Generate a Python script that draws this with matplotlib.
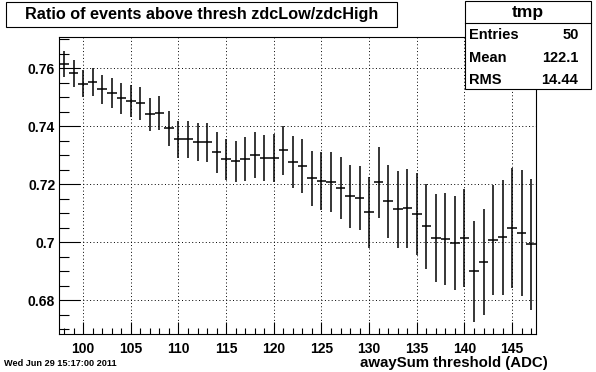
import matplotlib
matplotlib.use( 'Agg' )
import matplotlib.pyplot as pyplot
from matplotlib.patches import Rectangle
from matplotlib.ticker import MultipleLocator, FixedLocator, FixedFormatter


# bin centers (awaySum threshold) and ratio zdcLow/zdcHigh
thresholds = list( range( 98, 148 ) )

ratio = [ 0.7615, 0.7583, 0.7547, 0.7552, 0.7528, 0.7514, 0.7497, 0.7487, 0.7480, 0.7442,
          0.7445, 0.7393, 0.7355, 0.7355, 0.7345, 0.7345, 0.7310, 0.7286, 0.7279, 0.7286,
          0.7300, 0.7290, 0.7290, 0.7317, 0.7277, 0.7262, 0.7221, 0.7211, 0.7208, 0.7186,
          0.7159, 0.7152, 0.7103, 0.7207, 0.7141, 0.7114, 0.7117, 0.7097, 0.7055, 0.7014,
          0.7011, 0.6997, 0.7014, 0.6900, 0.6931, 0.7008, 0.7017, 0.7048, 0.7031, 0.6993 ]

ratio_err = [ 0.0046, 0.0047, 0.0047, 0.0048, 0.0050, 0.0052, 0.0053, 0.0055, 0.0057, 0.0057,
              0.0059, 0.0060, 0.0063, 0.0063, 0.0065, 0.0067, 0.0071, 0.0071, 0.0072, 0.0076,
              0.0079, 0.0080, 0.0082, 0.0085, 0.0089, 0.0093, 0.0095, 0.0099, 0.0103, 0.0107,
              0.0108, 0.0111, 0.0121, 0.0122, 0.0125, 0.0133, 0.0136, 0.0142, 0.0146, 0.0151,
              0.0159, 0.0163, 0.0169, 0.0175, 0.0183, 0.0191, 0.0199, 0.0207, 0.0217, 0.0226 ]

y_ticks = [ 0.68, 0.70, 0.72, 0.74, 0.76 ]
y_tick_labels = [ '0.68', '0.7', '0.72', '0.74', '0.76' ]
x_ticks = [ 100, 105, 110, 115, 120, 125, 130, 135, 140, 145 ]

stats_names = [ 'Entries', 'Mean', 'RMS' ]
stats_values = [ '50', '122.1', '14.44' ]


W, H = 596, 372
FONT = 'Liberation Sans'

fig = pyplot.figure( figsize=( W / 100, H / 100 ), dpi=100 )
fig.patch.set_facecolor( 'white' )

def fx( px ):
    return px / W

def fy( py ):
    return 1 - py / H

# frame in pixels: left 59, right 536, top 37, bottom 334
ax = fig.add_axes( [ fx( 59.3 ), fy( 333.7 ), fx( 536 - 59.3 ), ( 333.7 - 37.3 ) / H ] )

ax.errorbar( thresholds, ratio, yerr=ratio_err, xerr=0.5, fmt='none',
             ecolor='black', elinewidth=1.1, capsize=0 )

ax.set_xlim( 97.5, 147.5 )
ax.set_ylim( 0.6685, 0.7707 )

ax.xaxis.set_major_locator( FixedLocator( x_ticks ) )
ax.xaxis.set_minor_locator( MultipleLocator( 1 ) )
ax.yaxis.set_major_locator( FixedLocator( y_ticks ) )
ax.yaxis.set_major_formatter( FixedFormatter( y_tick_labels ) )
ax.yaxis.set_minor_locator( MultipleLocator( 0.005 ) )

ax.tick_params( axis='both', which='both', direction='in', top=False, right=False,
                width=0.8, colors='black' )
ax.tick_params( axis='x', which='major', length=9, pad=6 )
ax.tick_params( axis='x', which='minor', length=4.5 )
ax.tick_params( axis='y', which='major', length=15, pad=3 )
ax.tick_params( axis='y', which='minor', length=7.5 )

for lab in ax.get_xticklabels() + ax.get_yticklabels():
    lab.set_fontfamily( FONT )
    lab.set_fontweight( 'bold' )
    lab.set_fontsize( 10 )

for sp in ax.spines.values():
    sp.set_linewidth( 0.8 )
    sp.set_color( 'black' )

ax.grid( True, which='major', color='black', linestyle=( 0, ( 1, 2.5 ) ), linewidth=0.7 )
ax.set_axisbelow( True )

# x axis label, right aligned at the end of the axis
fig.text( fx( 548 ), fy( 363 ), 'awaySum threshold (ADC)', ha='right', va='center',
          fontfamily=FONT, fontweight='bold', fontsize=10.8 )

# date stamp
fig.text( fx( 4 ), fy( 363 ), 'Wed Jun 29 15:17:00 2011', ha='left', va='center',
          fontfamily=FONT, fontweight='bold', fontsize=6.6 )

# title box
fig.add_artist( Rectangle( ( fx( 6 ), fy( 27 ) ), fx( 397 - 6 ), ( 27 - 2 ) / H,
                           transform=fig.transFigure, facecolor='white', edgecolor='black', linewidth=0.8 ) )
fig.text( fx( 201.5 ), fy( 14.5 ), 'Ratio of events above thresh zdcLow/zdcHigh', ha='center', va='center',
          fontfamily=FONT, fontweight='bold', fontsize=11.7 )

# stats box
fig.add_artist( Rectangle( ( fx( 465 ), fy( 89 ) ), fx( 591 - 465 ), ( 89 - 1 ) / H,
                           transform=fig.transFigure, facecolor='white', edgecolor='black', linewidth=0.8 ) )
fig.add_artist( matplotlib.lines.Line2D( [ fx( 465 ), fx( 591 ) ], [ fy( 23.3 ), fy( 23.3 ) ],
                                         transform=fig.transFigure, color='black', linewidth=0.8 ) )
fig.text( fx( 528 ), fy( 12.5 ), 'tmp', ha='center', va='center',
          fontfamily=FONT, fontweight='bold', fontsize=12.5 )

row_y = [ 35, 58, 80 ]
for name, value, yy in zip( stats_names, stats_values, row_y ):
    fig.text( fx( 469.5 ), fy( yy ), name, ha='left', va='center',
              fontfamily=FONT, fontweight='bold', fontsize=10.5 )
    fig.text( fx( 578.5 ), fy( yy ), value, ha='right', va='center',
              fontfamily=FONT, fontweight='bold', fontsize=10.5 )

pyplot.savefig( 'out.png', dpi=100 )
